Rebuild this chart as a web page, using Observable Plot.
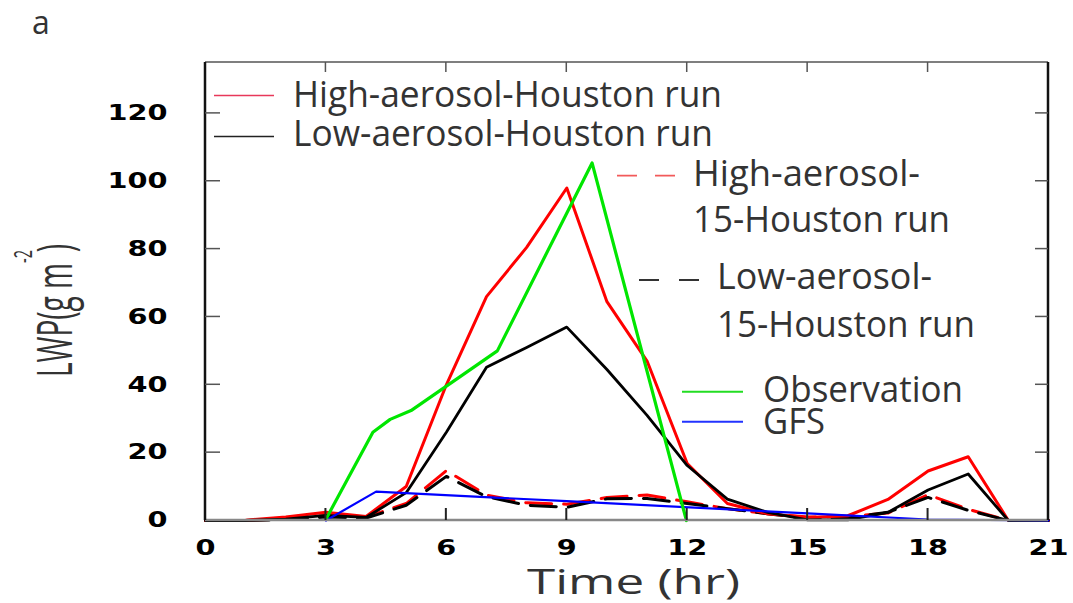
<!DOCTYPE html>
<html><head><meta charset="utf-8">
<script src="https://cdn.jsdelivr.net/npm/d3@7"></script>
<script src="https://cdn.jsdelivr.net/npm/@observablehq/plot@0.6"></script>
<style>
body{margin:0;background:#fff;}
#chart{position:relative;width:1073px;height:603px;}
</style></head><body><div id="chart"></div>
<script>
// ---- data ----
const hours = [0,1,2,3,4,5,6,7,8,9,10,11,12,13,14,15,16,17,18,19,20,21];
const highHouston   = [0,0.1,1,2.4,1.2,10,40,66,80.5,98,64.5,47,16.8,5,2,0.9,1.4,6.2,14.6,18.8,0,0];
const lowHouston    = [0,0,0.4,1.5,0.9,8.2,26,45.2,51,57,44.5,31,16.2,6.3,2.4,0.2,0.2,2.4,9,13.7,0,0];
const high15Houston = [0,0,0.5,1.5,1,5,14.7,7.5,5.2,4.8,6.8,7.5,5.5,3.5,2,1,1.2,2.2,7.6,3.3,0,0];
const low15Houston  = [0,0,0.3,1,0.7,4.5,13,7,4.5,3.9,6.4,6.5,5,3.5,2,0.5,0.8,2.4,6.8,3,0,0];
const obsHours  = [3,4.17,4.6,5.12,7.27,9.63,11.98];
const obsValues = [0.4,26,29.8,32.4,50,105.4,0];
const gfsHours  = [3,4.25,9,15,18,21];
const gfsValues = [0,8.5,5.7,2.1,0.3,0];
const xTicks = [0,3,6,9,12,15,18,21];
const yTicks = [0,20,40,60,80,100,120];
const legendLabels = ["High-aerosol-Houston run","Low-aerosol-Houston run",
  ["High-aerosol-","15-Houston run"],["Low-aerosol-","15-Houston run"],"Observation","GFS"];
const panelLabel = "a";
const xLabel = "Time (hr)";

const rows = (xs, ys) => xs.map((x,i)=>({x, y: ys[i]}));
const RED="#ff0000", BLACK="#000000", GREEN="#00e600", BLUE="#0000ff";
const DASH="26,12";

const chart = Plot.plot({
  width:1073, height:603,
  marginLeft:205, marginRight:25, marginTop:62, marginBottom:83,
  x:{domain:[0,21]}, y:{domain:[0,135]},
  style:{background:"white", fontFamily:"DejaVu Sans", fontSize:"21px", fontWeight:"bold", color:"#000", overflow:"visible"},
  marks:[
    Plot.axisX({ticks:xTicks, tickSize:0, tickPadding:20, label:null, fill:"#000"}),
    Plot.axisY({ticks:yTicks, tickSize:0, tickPadding:38, label:null, fill:"#000"}),
    Plot.line(rows(hours, high15Houston), {x:"x", y:"y", stroke:RED, strokeWidth:3, strokeDasharray:DASH}),
    Plot.line(rows(hours, low15Houston), {x:"x", y:"y", stroke:BLACK, strokeWidth:3, strokeDasharray:DASH}),
    Plot.line(rows(hours, highHouston), {x:"x", y:"y", stroke:RED, strokeWidth:3}),
    Plot.line(rows(hours, lowHouston), {x:"x", y:"y", stroke:BLACK, strokeWidth:2.8}),
    Plot.line(rows(gfsHours, gfsValues), {x:"x", y:"y", stroke:BLUE, strokeWidth:2.2}),
    Plot.line(rows(obsHours, obsValues), {x:"x", y:"y", stroke:GREEN, strokeWidth:3.2})
  ]
});
document.getElementById("chart").appendChild(chart);

// stretch the wide tick digits
chart.querySelectorAll('g[aria-label="x-axis tick label"] text, g[aria-label="y-axis tick label"] text').forEach(t=>{
  const n = t.textContent.length;
  t.setAttribute("textLength", n*20);
  t.setAttribute("lengthAdjust","spacingAndGlyphs");
});

const sx = chart.scale("x"), sy = chart.scale("y");
const svg = d3.select(chart);
const L = sx.apply(0), R = sx.apply(21), B = sy.apply(0), T = sy.apply(135);
const g = svg.append("g");
// frame
g.append("line").attr("x1",L).attr("x2",R).attr("y1",T).attr("y2",T).attr("stroke","#555").attr("stroke-width",1.5);
g.append("line").attr("x1",L).attr("x2",R).attr("y1",B).attr("y2",B).attr("stroke","#888").attr("stroke-width",2.5);
g.append("line").attr("x1",L).attr("x2",L).attr("y1",T).attr("y2",B).attr("stroke","#111").attr("stroke-width",2.5);
g.append("line").attr("x1",R).attr("x2",R).attr("y1",T).attr("y2",B).attr("stroke","#111").attr("stroke-width",2.5);
// inward ticks
yTicks.filter(v=>v>0).forEach(v=>{
  const y = sy.apply(v);
  g.append("line").attr("x1",L).attr("x2",L+15).attr("y1",y).attr("y2",y).attr("stroke","#555").attr("stroke-width",1.5);
  g.append("line").attr("x1",R-13).attr("x2",R).attr("y1",y).attr("y2",y).attr("stroke","#555").attr("stroke-width",1.5);
});
xTicks.filter(v=>v>0 && v<21).forEach(v=>{
  const x = sx.apply(v);
  g.append("line").attr("x1",x).attr("x2",x).attr("y1",B).attr("y2",B-12).attr("stroke","#222").attr("stroke-width",2);
  g.append("line").attr("x1",x).attr("x2",x).attr("y1",T).attr("y2",T+10).attr("stroke","#555").attr("stroke-width",1.5);
});

const TXT = "#333", FONT = "Open Sans";
// panel letter
svg.append("text").attr("x",32).attr("y",34).attr("text-anchor","start").attr("font-family",FONT).attr("font-size",32).attr("font-weight","normal").attr("fill",TXT).text(panelLabel);
// x label
svg.append("text").attr("x",(L+R)/2+7).attr("y",594).attr("text-anchor","middle").attr("font-family",FONT)
  .attr("font-size",34).attr("font-weight","normal").attr("fill",TXT)
  .attr("textLength",213).attr("lengthAdjust","spacingAndGlyphs").text(xLabel);
// y label
const yl = svg.append("text").attr("transform","translate(72,377) rotate(-90) scale(0.56,1)").attr("text-anchor","start")
  .attr("font-family",FONT).attr("font-size",50).attr("font-weight","normal").attr("fill",TXT);
yl.append("tspan").text("LWP(g m");
yl.append("tspan").attr("font-size",26).attr("dy",-40).text("-2");
yl.append("tspan").attr("dy",40).attr("dx",-4).text(")");

// legend
const legendLayout = [
  {stroke:"#e8385a", w:1.6, dash:null, x1:214, x2:274, y:95.5, text:[[293,106.5,429]]},
  {stroke:"#222", w:1.6, dash:null, x1:214, x2:274, y:136.5, text:[[293,145.7,420]]},
  {stroke:"#f25a5a", w:1.8, dash:"20,18", x1:617, x2:677, y:175.7, text:[[693,186,227],[693,232,257]]},
  {stroke:"#333", w:1.8, dash:"20,20", x1:639, x2:700, y:280, text:[[717,289,215],[717,337,258]]},
  {stroke:"#22dd22", w:2, dash:null, x1:682, x2:743, y:391.7, text:[[763,402,200]]},
  {stroke:"#2233ff", w:2, dash:null, x1:682, x2:743, y:421.7, text:[[763,434,62]]}
];
const lg = svg.append("g").attr("text-anchor","start");
legendLayout.forEach((d,i)=>{
  const ln = lg.append("line").attr("x1",d.x1).attr("x2",d.x2).attr("y1",d.y).attr("y2",d.y)
    .attr("stroke",d.stroke).attr("stroke-width",d.w);
  if (d.dash) ln.attr("stroke-dasharray",d.dash);
  const labs = Array.isArray(legendLabels[i]) ? legendLabels[i] : [legendLabels[i]];
  d.text.forEach((p,j)=>{
    lg.append("text").attr("x",p[0]).attr("y",p[1]).attr("text-anchor","start").attr("font-family",FONT).attr("font-size",37)
      .attr("font-weight","normal").attr("fill",TXT)
      .attr("textLength",p[2]).attr("lengthAdjust","spacingAndGlyphs").text(labs[j]);
  });
});
</script></body></html>
